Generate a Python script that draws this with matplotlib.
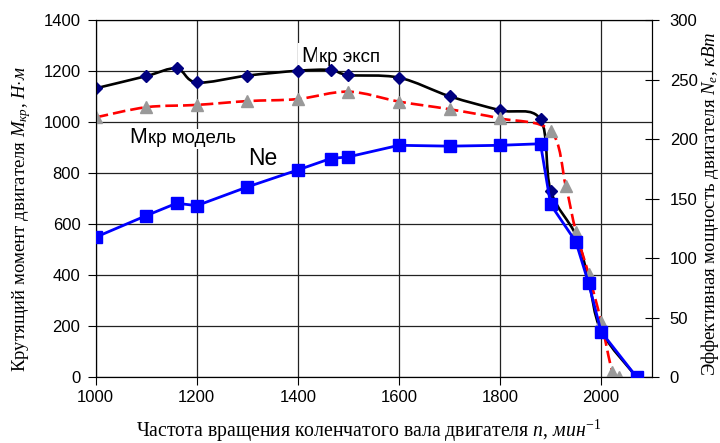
import numpy as np
import matplotlib
matplotlib.use("Agg")
import matplotlib.pyplot as plt
from matplotlib.path import Path
from matplotlib.patches import PathPatch
from matplotlib.transforms import offset_copy

plt.rcParams['font.family'] = ['Liberation Sans', 'DejaVu Sans']
plt.rcParams['mathtext.fontset'] = 'custom'
plt.rcParams['mathtext.rm'] = 'Liberation Serif'
plt.rcParams['mathtext.it'] = 'Liberation Serif:italic'

# Мкр эксп (Н·м)
n_exp = [1000, 1100, 1160, 1200, 1300, 1400, 1465, 1500, 1600, 1700, 1800, 1880, 1900, 1950, 1975, 2000, 2070]
m_exp = [1132, 1180, 1210, 1155, 1182, 1201, 1204, 1184, 1174, 1101, 1046, 1010, 731, 556, 382, 181, 0]
# Мкр модель (Н·м)
n_mod = [1000, 1100, 1200, 1300, 1400, 1500, 1600, 1700, 1800, 1900, 1930, 1950, 1975, 2000, 2022, 2035]
m_mod = [1018, 1058, 1067, 1082, 1090, 1119, 1080, 1050, 1014, 965, 749, 570, 405, 217, 21, 0]
# Ne (кВт)
n_ne = [1000, 1100, 1160, 1200, 1300, 1400, 1465, 1500, 1600, 1700, 1800, 1880, 1900, 1950, 1975, 2000, 2070]
ne = [117.5, 135.6, 146, 144, 159.7, 174, 183.6, 185, 194.7, 194, 194.7, 196, 145, 113.6, 79, 38, 0]

x_ticks = [1000, 1200, 1400, 1600, 1800, 2000]
y_ticks = [0, 200, 400, 600, 800, 1000, 1200, 1400]
y2_ticks = [0, 50, 100, 150, 200, 250, 300]


def smooth_path(xs, ys):
    # сглаженная линия как в Excel (кривые Безье через точки)
    p = np.column_stack([xs, ys]).astype(float)
    verts = [p[0]]
    codes = [Path.MOVETO]
    for i in range(len(p) - 1):
        p0 = p[i - 1] if i > 0 else p[i]
        p3 = p[i + 2] if i + 2 < len(p) else p[i + 1]
        c1 = p[i] + (p[i + 1] - p0) / 6.0
        c2 = p[i + 1] - (p3 - p[i]) / 6.0
        verts += [c1, c2, p[i + 1]]
        codes += [Path.CURVE4] * 3
    return Path(verts, codes)


fig = plt.figure(figsize=(7.2, 4.43), dpi=100)
ax = fig.add_axes([95.7 / 720, 1 - 377 / 443, 556 / 720, 357 / 443])
ax2 = ax.twinx()

ax.set_xlim(1000, 2100)
ax.set_ylim(0, 1400)
ax2.set_ylim(0, 300)

ax.set_xticks(x_ticks)
ax.set_yticks(y_ticks)
ax2.set_yticks(y2_ticks)
ax.grid(True, color='#222222', lw=0.9)
ax.set_axisbelow(True)

ax.tick_params(axis='y', direction='out', length=6, width=0.8, pad=5, labelsize=12)
ax.tick_params(axis='x', direction='out', length=5.5, width=0.8, pad=4, labelsize=12)
ax2.tick_params(axis='y', direction='inout', length=10, width=0.8, pad=8, labelsize=12)

ax.add_patch(PathPatch(smooth_path(n_exp, m_exp), fill=False, ec='black', lw=1.9, zorder=3))
ax.add_patch(PathPatch(smooth_path(n_mod, m_mod), fill=False, ec='#ff0000', lw=1.9,
                       linestyle=(0, (4.8, 1.9)), zorder=3))
ax.plot(n_exp, m_exp, ls='none', marker='D', ms=6, color='#000080', markevery=list(range(13)), zorder=4)
ax.plot(n_mod, m_mod, ls='none', marker='^', ms=8, color='#999999', zorder=4)

ax2.plot(n_ne, ne, color='#0000ff', lw=2, marker='s', ms=8, zorder=5)


# подписи кривых: большая "М" и мелкое "кр ..."
def label(x, y, big, small, dx):
    ax.text(x, y, big, fontsize=15.5, va='baseline', ha='left', zorder=2.4,
            bbox=dict(fc='white', ec='none', pad=2))
    tr = offset_copy(ax.transData, fig=fig, x=dx, y=0, units='dots')
    ax.text(x, y, small, fontsize=13.5, va='baseline', ha='left', transform=tr, zorder=2.5,
            bbox=dict(fc='white', ec='none', pad=1.2))


label(1406, 1236, 'М', 'кр эксп', 18)
label(1067, 916, 'М', 'кр модель', 18)
ax.text(1302, 831, 'Ne', fontsize=16.5, va='baseline', ha='left', zorder=2.5)

serif = ['Liberation Serif', 'DejaVu Serif']
fig.text(22 / 720, 1 - 219 / 443, r'Крутящий момент двигателя $\mathit{M_{кр}}$, $\mathit{Н{\cdot}м}$',
         rotation=90, ha='center', va='center', fontsize=13.5, family=serif)
fig.text(710 / 720, 1 - 204 / 443, r'Эффективная мощность двигателя $\mathit{N_e}$, $\mathit{кВт}$',
         rotation=90, ha='center', va='center', fontsize=13.5, family=serif)
fig.text(369 / 720, 1 - 431 / 443, r'Частота вращения коленчатого вала двигателя $\mathit{n}$, $\mathit{мин^{-1}}$',
         ha='center', va='center', fontsize=14.2, family=serif)

fig.savefig('out.png', dpi=100)
